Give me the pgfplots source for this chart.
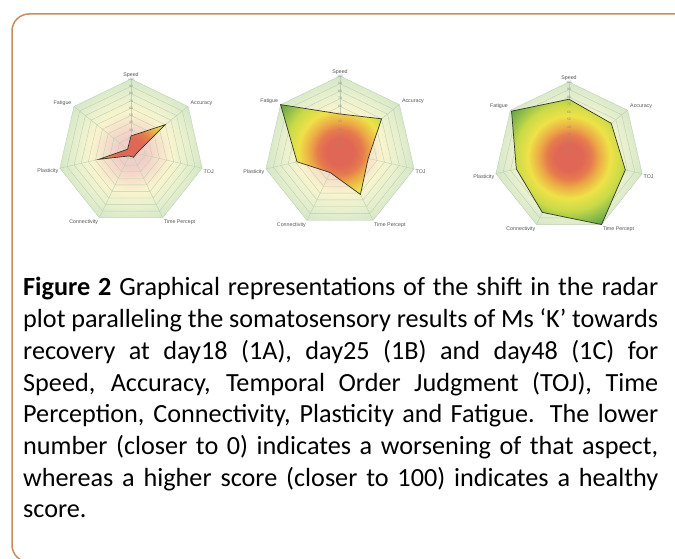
\documentclass[border=0pt]{standalone}
\usepackage{pgfplots}
\pgfplotsset{compat=1.18}
\usepgfplotslibrary{polar}
\usepackage{fontspec}
\setmainfont{Liberation Sans}
\newfontfamily\capfont{Carlito}
\definecolor{framecol}{RGB}{198,142,92}
\definecolor{gridcol}{RGB}{190,208,180}
\definecolor{labcol}{RGB}{85,85,85}
\definecolor{tickcol}{RGB}{140,140,140}
\definecolor{polyline}{RGB}{55,55,40}
\definecolor{f0}{RGB}{224,102,86}
\definecolor{f1}{RGB}{230,124,76}
\definecolor{f2}{RGB}{236,170,70}
\definecolor{f3}{RGB}{238,226,72}
\definecolor{f4}{RGB}{200,218,72}
\definecolor{f5}{RGB}{135,186,74}
\definecolor{f6}{RGB}{95,160,72}
\definecolor{b0}{RGB}{242,206,200}
\definecolor{b1}{RGB}{245,218,202}
\definecolor{b2}{RGB}{249,244,205}
\definecolor{b3}{RGB}{232,240,206}
\definecolor{b4}{RGB}{212,231,200}
\pgfdeclareradialshading{radarfg}{\pgfpointorigin}{color(0bp)=(f0); color(4.5bp)=(f0); color(7.5bp)=(f1); color(10bp)=(f2); color(13.75bp)=(f3); color(18bp)=(f4); color(22bp)=(f5); color(25bp)=(f6); color(50bp)=(f6)}
\pgfdeclareradialshading{radarbg}{\pgfpointorigin}{color(0bp)=(b0); color(5bp)=(b0); color(8bp)=(b1); color(13.75bp)=(b2); color(19bp)=(b3); color(25bp)=(b4); color(50bp)=(b4)}
\pgfplotsset{radar/.style={scale only axis, width=#1, height=#1,
  xmin=-100, xmax=100, ymin=-100, ymax=100, hide axis, clip=false, anchor=center},
  radarpoly/.style={data cs=polar, draw=polyline, line width=0.7bp,
  path picture={\shade[path picture={}, draw=none, shading=radarfg] (axis cs:-100,-100) rectangle (axis cs:100,100);}},
  radarbgstyle/.style={data cs=polar, draw=none,
  path picture={\shade[path picture={}, draw=none, shading=radarbg] (axis cs:-100,-100) rectangle (axis cs:100,100);}}}
\newcommand{\radargrid}{%
  \addplot[radarbgstyle]
    coordinates {(90,100) (38.571,100) (-12.857,100) (-64.286,100) (-115.714,100) (-167.143,100) (141.429,100) (90,100)};
  \pgfplotsinvokeforeach{10,20,30,40,50,60,70,80,90,100}{%
    \addplot[data cs=polar, gridcol, line width=0.4bp]
      coordinates {(90,##1) (38.571,##1) (-12.857,##1) (-64.286,##1) (-115.714,##1) (-167.143,##1) (141.429,##1) (90,##1)};
  }
  \pgfplotsinvokeforeach{90,38.571,-12.857,-64.286,-115.714,-167.143,141.429}{%
    \addplot[data cs=polar, gridcol, line width=0.4bp] coordinates {(##1,0) (##1,100)};
  }
}
\newcommand{\radarlabels}{%
  \pgfplotsinvokeforeach{10,20,30,40,50,60,70,80,90,100}{%
    \node[font=\fontsize{3.3bp}{4bp}\selectfont, text=tickcol, inner sep=0pt] at (axis cs:0,##1) {##1};
  }
  \begin{scope}[font=\fontsize{5.3bp}{6bp}\selectfont, text=labcol, inner sep=1bp]
  \node[anchor=south] at (axis cs:0,100) {Speed};
  \node[anchor=south west] at (axis cs:80,62.35) {Accuracy};
  \node[anchor=west, yshift=-3bp] at (axis cs:98,-22.25) {TOJ};
  \node[anchor=north west] at (axis cs:43.39,-91) {Time Percept};
  \node[anchor=north east] at (axis cs:-43.39,-91) {Connectivity};
  \node[anchor=east, yshift=-3bp] at (axis cs:-98,-22.25) {Plasticity};
  \node[anchor=south east] at (axis cs:-80,62.35) {Fatigue};
  \end{scope}
}
\newcommand{\capline}[2]{\node[anchor=base west, inner sep=0pt] at (23,#1)
  {\capfont\fontsize{26.2bp}{32bp}\selectfont\makebox[635bp][s]{#2}};}
\begin{document}
\begin{tikzpicture}[x=1bp,y=1bp]
\path[use as bounding box] (0,0) rectangle (675,559);
\begin{scope}
\clip (0,0) rectangle (675,559);
\draw[framecol, line width=1.5bp, rounded corners=17bp] (720,-3) -- (12,-3) -- (12,545) -- (720,545);
\end{scope}

% Plot A (day 18)
\begin{axis}[radar=146bp, at={(131bp,407bp)}]
\radargrid
\addplot[radarpoly] coordinates {(90,22) (38.571,60) (-12.857,8) (-64.286,8) (-115.714,6) (-167.143,45) (141.429,6) (90,22)};
\radarlabels
\end{axis}

% Plot B (day 25)
\begin{axis}[radar=152bp, at={(340bp,407bp)}]
\radargrid
\addplot[radarpoly] coordinates {(90,50) (38.571,70) (-12.857,38) (-64.286,62) (-115.714,30) (-167.143,58) (141.429,100) (90,50)};
\radarlabels
\end{axis}

% Plot C (day 48)
\begin{axis}[radar=150bp, at={(569bp,402bp)}]
\radargrid
\addplot[radarpoly] coordinates {(90,77) (38.571,72) (-12.857,77) (-64.286,100) (-115.714,82) (-167.143,72) (141.429,98) (90,77)};
\radarlabels
\end{axis}

% cut-off panel letters
\begin{scope}
\clip (0,312) rectangle (675,330);
\node[font=\fontsize{6bp}{7bp}\selectfont, text=labcol] at (118,309) {1A};
\node[font=\fontsize{6bp}{7bp}\selectfont, text=labcol] at (340,309) {1B};
\node[font=\fontsize{6bp}{7bp}\selectfont, text=labcol] at (564,309) {1C};
\end{scope}

\capline{263}{\textbf{Figure 2} Graphical representations of the shift in the radar}
\capline{231.3}{plot paralleling the somatosensory results of Ms ‘K’ towards}
\capline{199.6}{recovery at day18 (1A), day25 (1B) and day48 (1C) for}
\capline{167.9}{Speed, Accuracy, Temporal Order Judgment (TOJ), Time}
\capline{136.2}{Perception, Connectivity, Plasticity and Fatigue. The lower}
\capline{104.5}{number (closer to 0) indicates a worsening of that aspect,}
\capline{72.8}{whereas a higher score (closer to 100) indicates a healthy}
\node[anchor=base west, inner sep=0pt] at (23,41.1) {\capfont\fontsize{26.2bp}{32bp}\selectfont score.};
\end{tikzpicture}
\end{document}
